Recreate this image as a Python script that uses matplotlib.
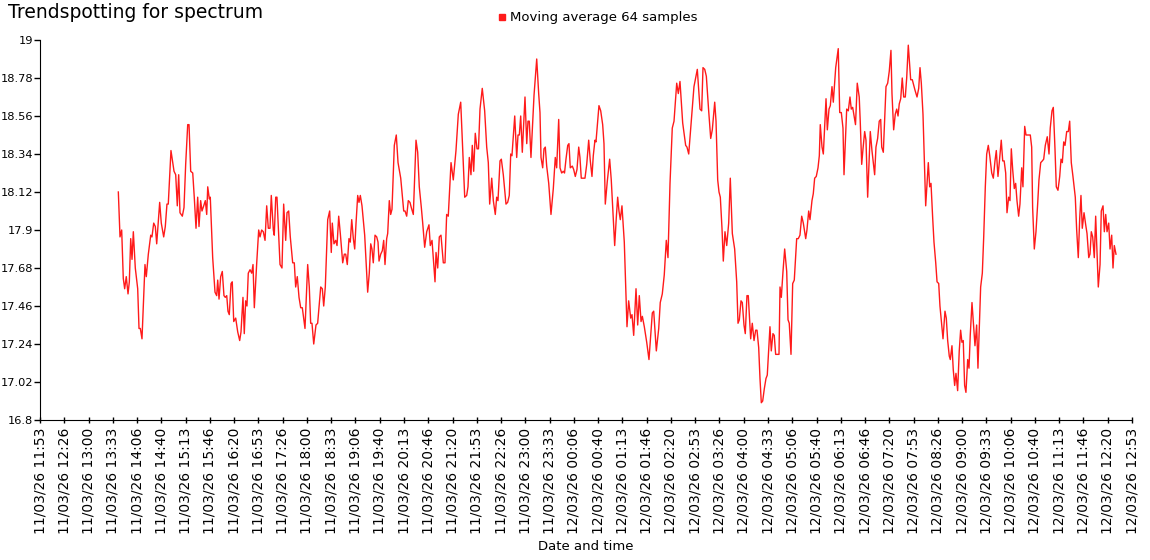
import datetime as dt

import matplotlib
matplotlib.use('Agg')
import matplotlib.pyplot as plt
import numpy as np
from matplotlib.lines import Line2D

# minutes after 11/03/26 11:53:20
minutes = [
    107.6, 109.9, 112.2, 114.4, 116.3, 118.5, 120.9, 122.7, 124.6, 126.4, 128.2, 130.9, 134.2, 136.0,
    137.8, 140.1, 144.2, 146.0, 148.8, 152.1, 153.8, 156.2, 158.4, 160.3, 164.4, 166.6, 169.9, 172.1,
    174.4, 176.2, 179.9, 184.1, 186.4, 188.6, 190.5, 192.3, 195.5, 197.8, 200.1, 202.9, 204.7, 207.0,
    209.8, 211.9, 214.3, 216.6, 218.4, 220.7, 222.5, 224.9, 227.1, 229.0, 230.4, 232.6, 233.9, 237.2,
    240.4, 242.7, 244.1, 245.9, 248.2, 250.4, 252.7, 254.5, 256.5, 258.2, 260.0, 262.4, 264.1, 266.1,
    268.8, 271.6, 274.3, 276.1, 278.8, 280.6, 282.5, 284.3, 286.1, 288.5, 290.8, 292.6, 294.4, 297.7,
    300.4, 302.2, 304.5, 306.7, 309.1, 311.4, 313.6, 315.9, 317.7, 320.5, 321.8, 323.8, 325.5, 329.7,
    332.4, 334.7, 337.5, 339.3, 341.6, 343.8, 347.1, 349.3, 351.2, 353.4, 355.8, 358.1, 360.3, 364.0,
    367.7, 369.9, 371.8, 373.6, 376.0, 379.1, 381.4, 385.6, 387.8, 389.7, 391.9, 395.2, 397.9, 400.1,
    401.5, 403.8, 406.2, 408.0, 410.3, 412.5, 415.8, 418.0, 419.9, 422.1, 424.4, 426.2, 428.2, 430.4,
    432.3, 434.1, 436.4, 438.2, 440.0, 442.3, 446.0, 450.1, 452.3, 454.3, 456.0, 457.8, 460.2, 462.5,
    464.3, 465.7, 468.0, 470.2, 472.1, 473.9, 476.2, 477.6, 479.8, 481.7, 483.5, 486.7, 489.4, 491.8,
    495.5, 499.6, 501.4, 503.7, 505.9, 508.2, 510.0, 512.8, 516.5, 518.8, 521.0, 523.8, 525.7, 528.4,
    531.2, 534.3, 536.1, 538.5, 542.6, 544.0, 546.3, 548.5, 550.8, 554.0, 556.3, 558.6, 560.8, 564.6,
    567.7, 571.4, 574.6, 577.9, 580.6, 583.4, 586.1, 587.9, 589.7, 592.0, 593.8, 595.7, 597.9, 600.3,
    602.3, 604.4, 607.5, 610.8, 613.6, 615.8, 617.7, 620.5, 622.7, 625.4, 627.3, 629.1, 631.9, 633.7,
    636.4, 640.1, 642.4, 644.6, 646.6, 648.3, 652.1, 654.8, 656.6, 658.4, 660.3, 662.5, 666.2, 668.6,
    670.3, 672.1, 674.4, 678.6, 682.3, 685.0, 686.8, 688.2, 690.5, 692.3, 694.1, 696.0, 698.8, 701.9,
    705.1, 707.8, 709.7, 712.5, 714.3, 716.6, 718.8, 720.5, 722.5, 724.9, 726.6, 728.4, 731.2, 733.1,
    735.3, 737.6, 740.0, 741.7, 743.5, 746.3, 748.6, 751.0, 753.7, 755.9, 758.2, 760.0, 762.3, 763.7,
    767.8, 770.2, 772.9, 774.7, 776.5, 779.2, 782.5, 784.7, 787.5, 789.4, 791.6, 793.5, 795.3, 797.1,
    799.4, 802.6, 806.3, 808.6, 811.4, 813.2, 815.5, 818.7, 821.0, 823.2, 825.6, 827.4, 830.1, 833.4,
    836.5, 839.3, 841.1, 843.0, 846.6, 849.9, 852.0, 854.8, 857.5, 860.3, 862.6, 865.4, 868.5, 870.9,
    874.6, 876.8, 879.1, 882.8, 886.9, 888.7, 891.1, 894.2, 896.6, 898.3, 902.9, 906.6, 908.9, 910.7,
    913.1, 915.3, 918.5, 921.3, 923.5, 926.8, 928.6, 930.9, 932.7, 934.5, 936.8, 938.6, 940.9, 943.3,
    946.0, 948.2, 951.0, 954.2, 957.0, 958.8, 960.6, 962.9, 964.7, 967.0, 968.8, 971.1, 972.9, 976.2,
    978.4, 980.8, 983.1, 984.9, 987.2, 989.0, 990.8, 992.7, 994.9, 997.2, 999.0, 1002.7, 1004.5, 1006.8,
    1008.6, 1010.5, 1015.1, 1016.5, 1018.3, 1020.6, 1022.9, 1025.7, 1027.5, 1029.2, 1031.6, 1033.9,
    1036.1, 1039.4, 1041.6, 1043.9, 1046.3, 1048.5, 1051.8, 1053.5, 1055.9, 1057.7, 1060.4, 1062.2,
    1064.1, 1066.3, 1068.7, 1070.5, 1071.8, 1074.2, 1076.0, 1079.7, 1081.5, 1083.8, 1085.6, 1087.9,
    1089.7, 1093.0, 1096.5, 1098.5, 1100.7, 1103.0, 1104.4, 1108.1, 1110.3, 1112.6, 1114.4, 1116.3,
    1120.2, 1122.6, 1125.3, 1126.7, 1128.7, 1130.5, 1132.8, 1134.6, 1136.9, 1140.5, 1142.8, 1146.5,
    1148.3, 1150.6, 1152.8, 1154.8, 1156.2, 1158.4, 1162.1, 1164.4, 1166.6, 1168.9, 1170.3, 1172.6,
    1174.8, 1176.8, 1178.6, 1180.3, 1182.3, 1184.4, 1186.4, 1188.6, 1190.5, 1192.7, 1196.0, 1198.2,
    1201.9, 1204.7, 1207.0, 1208.8, 1210.6, 1212.9, 1214.7, 1216.6, 1218.4, 1220.2, 1222.1, 1223.9,
    1226.2, 1228.0, 1230.4, 1232.2, 1234.5, 1236.2, 1238.6, 1240.4, 1243.1, 1244.9, 1246.8, 1249.0,
    1250.4, 1252.7, 1254.5, 1256.4, 1258.2, 1260.5, 1262.7, 1264.6, 1266.4, 1268.2, 1270.1, 1271.9,
    1274.3, 1276.1, 1277.8, 1280.2, 1282.0, 1284.3, 1286.6, 1288.4, 1290.2, 1292.1, 1294.4, 1296.3,
    1298.5, 1300.4, 1302.6, 1304.6, 1307.3, 1309.5, 1311.8, 1313.6, 1315.9, 1317.7, 1320.4, 1322.4,
    1324.4, 1326.5, 1328.3, 1330.6, 1332.4, 1334.2, 1336.1, 1338.3, 1340.2, 1342.0, 1344.3, 1346.1,
    1348.5, 1350.2, 1352.6, 1354.4, 1360.3, 1362.2, 1363.5, 1365.8, 1368.1, 1370.4, 1372.2, 1374.6,
    1376.8, 1378.7, 1380.9, 1383.6, 1386.0, 1387.7, 1390.1, 1391.9, 1394.2, 1396.0, 1398.3, 1400.7,
    1402.5, 1404.3, 1406.2, 1408.0, 1410.3, 1412.5, 1414.4, 1416.6, 1418.9, 1422.1, 1424.0, 1426.2,
    1428.2, 1429.9, 1431.7, 1434.1, 1436.4, 1438.2, 1440.6, 1442.3, 1444.1, 1446.0, 1448.2, 1450.1,
    1451.9, 1453.7, 1456.1, 1457.8, 1460.2, 1462.0, 1463.9, 1465.7, 1468.0, 1469.8, 1472.1, 1473.9,
    1475.7, 1478.0,
]

moving_avg = [
    18.12, 17.86, 17.90, 17.62, 17.56, 17.63, 17.53, 17.60, 17.85, 17.73, 17.89, 17.68, 17.56, 17.33,
    17.33, 17.27, 17.70, 17.63, 17.76, 17.87, 17.86, 17.94, 17.92, 17.82, 18.06, 17.94, 17.86, 17.92,
    18.05, 18.05, 18.36, 18.24, 18.22, 18.04, 18.22, 18.00, 17.98, 18.03, 18.28, 18.51, 18.51, 18.24,
    18.23, 18.09, 17.91, 18.09, 17.92, 18.07, 18.01, 18.04, 18.07, 17.99, 18.15, 18.08, 18.09, 17.74,
    17.54, 17.52, 17.61, 17.50, 17.63, 17.66, 17.52, 17.51, 17.52, 17.43, 17.41, 17.59, 17.60, 17.37,
    17.39, 17.31, 17.26, 17.31, 17.51, 17.30, 17.49, 17.46, 17.65, 17.67, 17.65, 17.70, 17.45, 17.71,
    17.90, 17.86, 17.90, 17.89, 17.84, 18.04, 17.91, 17.91, 18.10, 17.90, 17.87, 18.09, 18.09, 17.70,
    17.68, 18.05, 17.84, 18.00, 18.01, 17.86, 17.71, 17.71, 17.57, 17.63, 17.51, 17.45, 17.45, 17.33,
    17.70, 17.57, 17.36, 17.36, 17.24, 17.35, 17.36, 17.57, 17.56, 17.46, 17.57, 17.96, 18.01, 17.77,
    17.94, 17.82, 17.84, 17.81, 17.98, 17.88, 17.71, 17.76, 17.76, 17.70, 17.85, 17.83, 17.96, 17.85,
    17.79, 17.94, 18.10, 18.06, 18.10, 18.04, 17.87, 17.54, 17.65, 17.82, 17.79, 17.71, 17.87, 17.86,
    17.83, 17.72, 17.76, 17.78, 17.84, 17.70, 17.85, 17.88, 18.07, 17.99, 18.02, 18.39, 18.45, 18.29,
    18.20, 18.01, 18.01, 17.98, 18.07, 18.06, 18.03, 17.99, 18.42, 18.35, 18.15, 18.03, 17.94, 17.80,
    17.89, 17.93, 17.81, 17.84, 17.60, 17.77, 17.68, 17.86, 17.87, 17.71, 17.71, 17.99, 17.98, 18.29,
    18.19, 18.36, 18.57, 18.64, 18.37, 18.09, 18.10, 18.15, 18.32, 18.22, 18.39, 18.24, 18.46, 18.37,
    18.37, 18.60, 18.72, 18.59, 18.38, 18.29, 18.05, 18.20, 18.07, 17.99, 18.09, 18.07, 18.30, 18.31,
    18.22, 18.05, 18.06, 18.10, 18.34, 18.33, 18.56, 18.32, 18.45, 18.45, 18.56, 18.35, 18.67, 18.40,
    18.53, 18.53, 18.32, 18.68, 18.89, 18.69, 18.58, 18.32, 18.26, 18.37, 18.38, 18.27, 18.17, 17.99,
    18.14, 18.32, 18.26, 18.54, 18.26, 18.23, 18.24, 18.23, 18.31, 18.39, 18.40, 18.26, 18.27, 18.25,
    18.21, 18.25, 18.38, 18.32, 18.20, 18.20, 18.20, 18.28, 18.42, 18.30, 18.21, 18.33, 18.42, 18.41,
    18.62, 18.59, 18.51, 18.40, 18.05, 18.18, 18.31, 18.19, 17.97, 17.81, 17.97, 18.09, 18.01, 17.96,
    18.04, 17.83, 17.34, 17.49, 17.39, 17.41, 17.29, 17.56, 17.35, 17.52, 17.37, 17.40, 17.34, 17.25,
    17.15, 17.31, 17.42, 17.43, 17.20, 17.33, 17.48, 17.53, 17.64, 17.84, 17.74, 18.17, 18.49, 18.53,
    18.75, 18.69, 18.76, 18.52, 18.39, 18.38, 18.34, 18.51, 18.65, 18.73, 18.83, 18.60, 18.59, 18.84,
    18.83, 18.79, 18.59, 18.43, 18.48, 18.64, 18.53, 18.19, 18.12, 18.09, 17.91, 17.72, 17.89, 17.81,
    17.94, 18.20, 17.88, 17.79, 17.60, 17.36, 17.38, 17.49, 17.48, 17.35, 17.30, 17.52, 17.52, 17.27,
    17.36, 17.26, 17.32, 17.32, 17.22, 17.04, 16.90, 16.91, 16.98, 17.04, 17.06, 17.34, 17.20, 17.30,
    17.29, 17.18, 17.18, 17.57, 17.51, 17.66, 17.79, 17.66, 17.38, 17.36, 17.18, 17.59,
    17.61, 17.85, 17.85, 17.87, 17.98, 17.94, 17.85, 17.90, 18.01, 17.96, 18.07, 18.11,
    18.20, 18.21, 18.26, 18.33, 18.51, 18.38, 18.34, 18.66, 18.48, 18.60, 18.62, 18.73,
    18.64, 18.84, 18.95, 18.58, 18.58, 18.49, 18.22, 18.60, 18.59, 18.67, 18.60, 18.61,
    18.51, 18.75, 18.67, 18.53, 18.28, 18.37, 18.47, 18.42, 18.09, 18.47, 18.36, 18.22,
    18.38, 18.43, 18.53, 18.54, 18.38, 18.35, 18.73, 18.75, 18.82, 18.94, 18.69, 18.48,
    18.57, 18.60, 18.56, 18.63, 18.66, 18.78, 18.67, 18.67, 18.78, 18.97, 18.77, 18.77,
    18.71, 18.67, 18.72, 18.84, 18.75, 18.57, 18.32, 18.04, 18.17, 18.29, 18.15, 18.17,
    17.97, 17.83, 17.71, 17.60, 17.59, 17.46, 17.35, 17.27, 17.43, 17.39, 17.26, 17.17,
    17.15, 17.23, 17.09, 17.00, 17.07, 16.97, 17.20, 17.32, 17.25, 17.26, 17.00, 16.96,
    17.15, 17.10, 17.29, 17.48, 17.37, 17.23, 17.35, 17.10, 17.33, 17.57, 17.65, 17.86,
    18.15, 18.34, 18.39, 18.33, 18.23, 18.20, 18.30, 18.36, 18.21, 18.29, 18.42, 18.30,
    18.30, 18.23, 18.00, 18.09, 18.07, 18.37, 18.25, 18.14, 18.17, 18.07, 17.98, 18.05,
    18.26, 18.15, 18.50, 18.45, 18.45, 18.38, 18.03, 17.79, 17.89, 18.05, 18.19, 18.29,
    18.30, 18.31, 18.39, 18.44, 18.34, 18.49, 18.59, 18.61, 18.37, 18.15, 18.13, 18.21,
    18.31, 18.29, 18.41, 18.39, 18.47, 18.47, 18.53, 18.29, 18.21, 18.09, 17.90, 17.74,
    17.97, 18.10, 17.91, 18.00, 17.93, 17.88, 17.74, 17.76, 17.89, 17.86, 17.74, 17.98,
    17.78, 17.57, 17.70, 18.01, 18.04, 17.89, 17.99, 17.89, 17.94, 17.79, 17.87, 17.68,
    17.81, 17.76,
]

start = dt.datetime(2026, 3, 11, 11, 53, 20)
span_minutes = 1500
n_ticks = 46
y_ticks = np.linspace(16.8, 19.0, 11)

fig = plt.figure(figsize=(11.5, 5.6), dpi=100)
ax = fig.add_axes([40 / 1150, 1 - 420 / 560, 1092 / 1150, 380 / 560])

ax.plot(minutes, moving_avg, color='#ff1a1a', lw=1.0)

ax.set_xlim(0, span_minutes)
ax.set_ylim(16.8, 19.0)

x_ticks = np.linspace(0, span_minutes, n_ticks)
x_labels = [(start + dt.timedelta(minutes=float(m))).strftime('%d/%m/%y %H:%M') for m in x_ticks]
ax.set_xticks(x_ticks)
ax.set_xticklabels(x_labels, rotation=90, fontsize=10)
ax.set_yticks(y_ticks)
ax.set_yticklabels([f'{round(v, 2):g}' for v in y_ticks], fontsize=8.2)
ax.tick_params(axis='x', direction='inout', length=5, width=1, pad=3)
ax.tick_params(axis='y', direction='out', length=4, width=1, pad=1)

for side in ('top', 'right'):
    ax.spines[side].set_visible(False)

ax.set_xlabel('Date and time', fontsize=9.5, labelpad=4)

fig.text(0.007, 0.995, 'Trendspotting for spectrum', fontsize=13.5, va='top', ha='left')

handle = Line2D([], [], color='#ff1a1a', marker='s', lw=0, markersize=4.5)
fig.legend([handle], ['Moving average 64 samples'], loc='center', bbox_to_anchor=(0.52, 0.968),
           frameon=False, fontsize=9.5, handlelength=0.6, handletextpad=0.3)

fig.savefig('out.png', dpi=100)
